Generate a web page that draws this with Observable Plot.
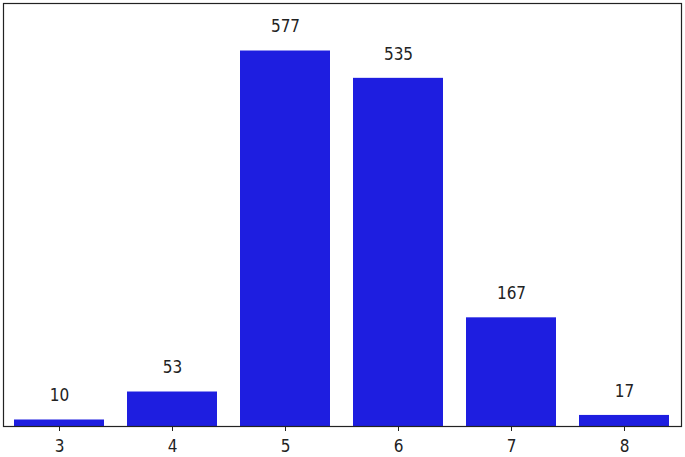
<!DOCTYPE html>
<html>
<head>
<meta charset="utf-8">
<script src="https://cdn.jsdelivr.net/npm/d3@7"></script>
<script src="https://cdn.jsdelivr.net/npm/@observablehq/plot@0.6"></script>
<style>
  html, body { margin: 0; padding: 0; background: #fff; }
  svg { display: block; }
</style>
</head>
<body>
<div id="chart"></div>
<script>
const quality = ["3", "4", "5", "6", "7", "8"];
const counts = [10, 53, 577, 535, 167, 17];

const data = quality.map((q, i) => ({quality: q, count: counts[i]}));

const chart = Plot.plot({
  width: 685,
  height: 457,
  marginLeft: 3,
  marginRight: 4,
  marginTop: 3,
  marginBottom: 31,
  style: {fontFamily: "'DejaVu Sans Condensed', 'DejaVu Sans'", fontSize: "17px", background: "#fff", color: "#222"},
  x: {domain: quality, paddingInner: 0.2, paddingOuter: 0.1, label: null, tickSize: 5, tickPadding: 8},
  y: {domain: [0, 650], axis: null},
  marks: [
    Plot.barY(data, {x: "quality", y: "count", fill: "#1e1ee0"}),
    Plot.text(data, {x: "quality", y: "count", text: d => String(d.count), dy: -24, fontSize: 17, fill: "#222"}),
    Plot.frame({stroke: "#222", strokeWidth: 1.2})
  ]
});
document.getElementById("chart").appendChild(chart);
</script>
</body>
</html>
